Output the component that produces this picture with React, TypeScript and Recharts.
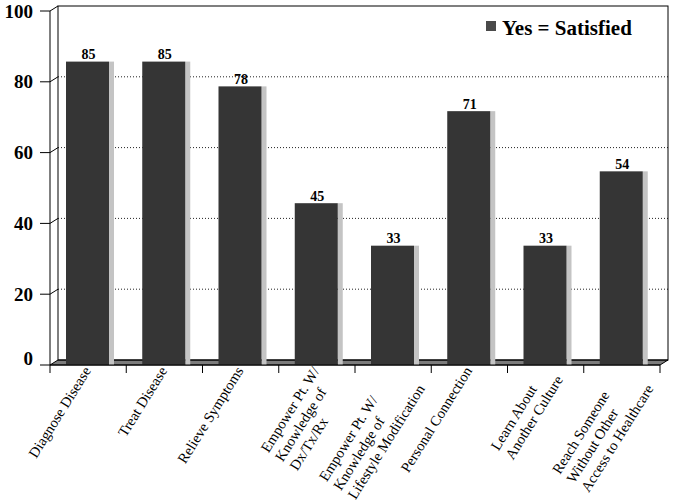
import React from 'react';
import { BarChart, Bar, XAxis, YAxis, CartesianGrid, ReferenceArea, LabelList, Legend } from 'recharts';

const categories = [
  'Diagnose Disease',
  'Treat Disease',
  'Relieve Symptoms',
  'Empower Pt. W/\nKnowledge of\nDx/Tx/Rx',
  'Empower Pt. W/\nKnowledge of\nLifestyle Modification',
  'Personal Connection',
  'Learn About\nAnother Culture',
  'Reach Someone\nWithout Other\nAccess to Healthcare',
];
const satisfied = [85, 85, 78, 45, 33, 71, 33, 54];
const yTicks = [0, 20, 40, 60, 80, 100];
const gridValues = [20, 40, 60, 80];
const seriesName = 'Yes = Satisfied';

const data = categories.map((c, i) => ({ category: c, satisfied: satisfied[i] }));

const CHART_W = 673;
const CHART_H = 501;
const MARGIN = { top: 11, right: 13, left: 0, bottom: 0 };
const Y_AXIS_W = 50;
const X_AXIS_H = 136;
const PLOT_W = CHART_W - MARGIN.left - MARGIN.right - Y_AXIS_W;
const DEPTH_X = 8;
const DEPTH_Y = 5;
const SERIF = '"Liberation Serif", "Times New Roman", serif';
const X_FONT = 14.6;
const X_LH = 17;
const ANGLE = -58;

let measureCtx: CanvasRenderingContext2D | null = null;
function measure(text: string, font: string): number {
  if (!measureCtx) {
    const c = document.createElement('canvas');
    measureCtx = c.getContext('2d');
  }
  if (!measureCtx) return text.length * 7;
  measureCtx.font = font;
  return measureCtx.measureText(text).width;
}

const WallShape = (p: any) => {
  const { x, y, width, height } = p;
  const x0 = x;
  const x1 = x + width;
  const yT = y;
  const yB = y + height;
  return (
    <g>
      <polygon
        points={`${x0},${yB} ${x1},${yB} ${x1 + DEPTH_X},${yB - DEPTH_Y} ${x0 + DEPTH_X},${yB - DEPTH_Y}`}
        fill="#7c7c7c"
        stroke="#000"
        strokeWidth={1}
      />
      <rect x={x0 + DEPTH_X} y={yT - DEPTH_Y} width={width} height={height} fill="none" stroke="#000" strokeWidth={1} />
      <line x1={x0} y1={yT} x2={x0 + DEPTH_X} y2={yT - DEPTH_Y} stroke="#000" strokeWidth={1} />
    </g>
  );
};

const GridLine = (p: any) => {
  const { x1, y1, x2 } = p;
  return (
    <g key={p.key ?? `g-${y1}`}>
      <line x1={x1} y1={y1} x2={x1 + DEPTH_X} y2={y1 - DEPTH_Y} stroke="#000" strokeWidth={1} />
      <line
        x1={x1 + DEPTH_X}
        y1={y1 - DEPTH_Y}
        x2={x2 + DEPTH_X}
        y2={y1 - DEPTH_Y}
        stroke="#222"
        strokeWidth={1}
        strokeDasharray="1 2"
      />
    </g>
  );
};

const BarShape = (p: any) => {
  const { x, y, width, height } = p;
  const top = y - 2.5;
  const bottom = y + height;
  return (
    <g>
      <rect x={x + width - 1} y={top} width={5} height={bottom - top} fill="#c4c4c4" />
      <rect x={x - 1} y={top} width={width} height={bottom - top} fill="#353535" />
    </g>
  );
};

const YTick = (p: any) => {
  const { x, y, payload } = p;
  const shift = payload.value === 0 ? -7 : 0;
  return (
    <text
      x={x}
      y={y + shift}
      textAnchor="end"
      dominantBaseline="central"
      fontFamily={SERIF}
      fontWeight="bold"
      fontSize={19}
      fill="#000"
    >
      {payload.value}
    </text>
  );
};

const XTick = (p: any) => {
  const { x, y, payload, index } = p;
  const bw = PLOT_W / categories.length;
  const lines = String(payload.value).split('\n');
  const font = `${X_FONT}px ${SERIF}`;
  const w = Math.max(...lines.map((l) => measure(l, font)));
  const rightEdge = -3;
  const firstMidV = 2;
  return (
    <g>
      <line x1={x - bw / 2} y1={y} x2={x - bw / 2} y2={y + 8} stroke="#000" strokeWidth={1} />
      {index === categories.length - 1 && (
        <line x1={x + bw / 2} y1={y} x2={x + bw / 2} y2={y + 8} stroke="#000" strokeWidth={1} />
      )}
      <g transform={`translate(${x},${y}) rotate(${ANGLE})`}>
        <text fontFamily={SERIF} fontSize={X_FONT} fill="#000">
          {lines.map((l, i) => (
            <tspan key={i} x={rightEdge - w} y={firstMidV + i * X_LH + 3.8}>
              {l}
            </tspan>
          ))}
        </text>
      </g>
    </g>
  );
};

const LegendContent = (p: any) => {
  const items = p.payload || [];
  return (
    <div>
      {items.map((it: any, i: number) => (
        <div key={i} style={{ display: 'flex', alignItems: 'flex-start' }}>
          <span
            style={{ display: 'inline-block', width: 10, height: 10, background: '#4a4a4a', marginTop: 2.7 }}
          />
          <span
            style={{
              marginLeft: 6,
              fontFamily: SERIF,
              fontWeight: 'bold',
              fontSize: 21,
              lineHeight: '21px',
              color: '#000',
              whiteSpace: 'nowrap',
            }}
          >
            {it.value}
          </span>
        </div>
      ))}
    </div>
  );
};

export default function App() {
  return (
    <div style={{ position: 'absolute', left: 0, top: 0, width: CHART_W, height: CHART_H, background: '#fff' }}>
      <BarChart width={CHART_W} height={CHART_H} data={data} margin={MARGIN} barSize={43}>
        <CartesianGrid horizontalValues={gridValues} vertical={false} horizontal={GridLine as any} />
        <ReferenceArea y1={0} y2={100} ifOverflow="visible" shape={WallShape} />
        <XAxis
          dataKey="category"
          height={X_AXIS_H}
          axisLine={{ stroke: '#000', strokeWidth: 1 }}
          tickLine={false}
          tickSize={0}
          tickMargin={0}
          interval={0}
          tick={<XTick />}
        />
        <YAxis
          domain={[0, 100]}
          ticks={yTicks}
          width={Y_AXIS_W}
          axisLine={{ stroke: '#000', strokeWidth: 1 }}
          tickLine={{ stroke: '#000', strokeWidth: 1 }}
          tickSize={10}
          tickMargin={7}
          interval={0}
          tick={<YTick />}
        />
        <Legend
          layout="horizontal"
          verticalAlign="middle"
          align="center"
          content={<LegendContent />}
          wrapperStyle={{ top: 18, left: 486, width: 180, height: 24 }}
        />
        <Bar dataKey="satisfied" name={seriesName} fill="#353535" shape={BarShape} isAnimationActive={false}>
          <LabelList
            dataKey="satisfied"
            position="top"
            offset={5}
            fill="#000"
            style={{ fontFamily: SERIF, fontWeight: 'bold', fontSize: 14 }}
          />
        </Bar>
      </BarChart>
    </div>
  );
}
